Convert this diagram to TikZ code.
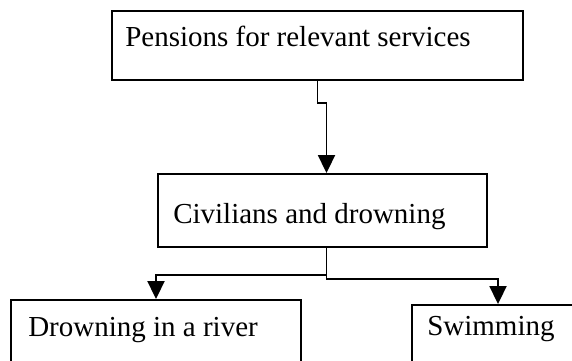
\documentclass[tikz,border=0pt]{standalone}
\usepackage{fontspec}
\setmainfont{Liberation Serif}
\usetikzlibrary{arrows.meta}
\usetikzlibrary{positioning}

\tikzset{
  box/.style={draw, line width=1.9pt, rectangle, inner sep=0pt},
  lbl/.style={anchor=base west, inner sep=0pt, font=\fontsize{29}{34}\selectfont},
  conn/.style={line width=1.9pt, -{Triangle[length=18pt, width=17pt]}},
}

\begin{document}
\begin{tikzpicture}[x=1pt, y=-1pt]
\clip (0,0) rectangle (572,360);
% boxes
\node[box, minimum width=411pt, minimum height=69pt] (pens) at (317.5,45.5) {};
\node[box, minimum width=329pt, minimum height=73pt] (civ) at (322.5,210.5) {};
\node[box, minimum width=290pt, minimum height=80pt] (river) at (156,340) {};
\node[box, minimum width=172pt, minimum height=80pt] (swim) at (498,345) {};
% texts
\node[lbl] (pensT) at ([xshift=14pt, yshift=-36pt]pens.north west) {Pensions for relevant services};
\node[lbl] (civT) at ([xshift=16pt, yshift=-50pt]civ.north west) {Civilians and drowning};
\node[lbl] (riverT) at ([xshift=18pt, yshift=-37pt]river.north west) {Drowning in a river};
\node[lbl] (swimT) at ([xshift=16pt, yshift=-31pt]swim.north west) {Swimming};
% connectors
\draw[conn] (pens.south) -- ++(0,22) -| ([xshift=4pt]civ.north);
\draw[conn] ([xshift=4pt]civ.south) -- ++(0,27) -| (river.north);
\draw[conn] ([xshift=4pt]civ.south) -- ++(0,31) -| (swim.north);
\end{tikzpicture}
\end{document}
